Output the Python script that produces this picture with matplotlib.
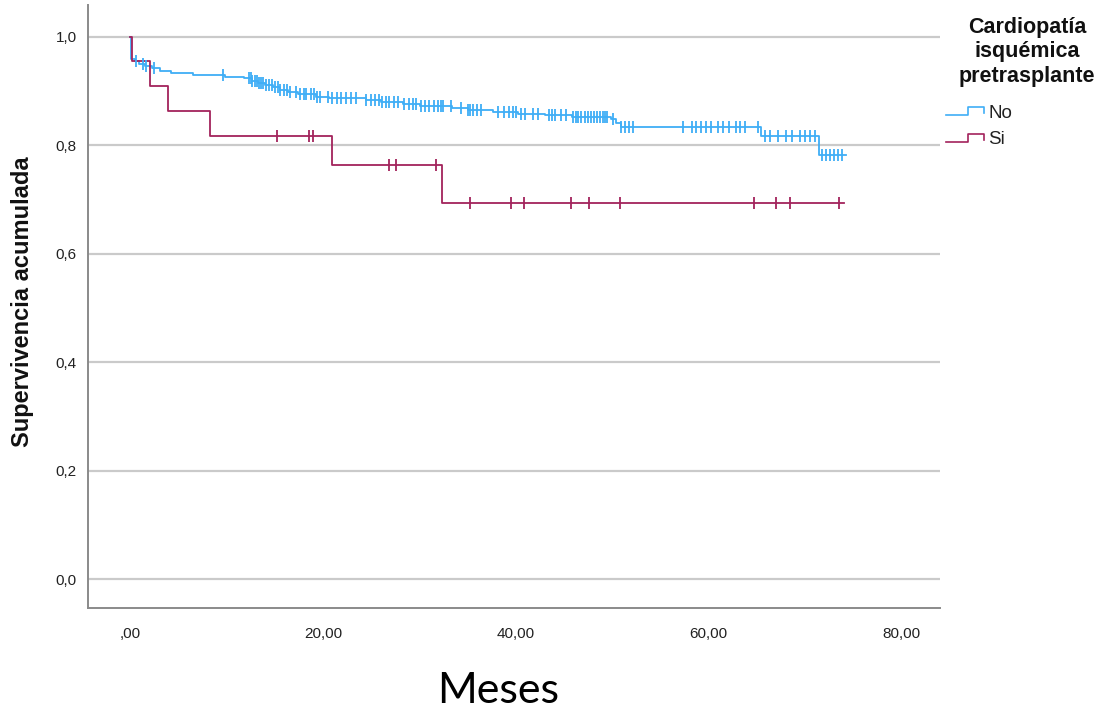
import matplotlib
matplotlib.use('Agg')
import matplotlib.pyplot as plt
import numpy as np
from matplotlib.lines import Line2D

# ---------------- data ----------------
no_times = [0, 0.15, 0.5, 0.9, 1.6, 2.3, 3.1, 4.2, 6.5, 9.8, 11.8, 12.6, 13.3, 14.0,
            14.8, 15.6, 16.4, 17.4, 19.3, 20.6, 24.5, 26.0, 28.3, 30.1, 33.4, 35.0,
            37.6, 40.2, 43.0, 45.8, 49.9, 50.4, 50.9, 65.4, 71.4]
no_surv = [1.0, 0.960, 0.955, 0.951, 0.947, 0.942, 0.938, 0.933, 0.930, 0.927, 0.924,
           0.919, 0.915, 0.911, 0.907, 0.903, 0.898, 0.894, 0.890, 0.887, 0.884, 0.880,
           0.876, 0.873, 0.869, 0.866, 0.862, 0.858, 0.856, 0.853, 0.849, 0.841, 0.834,
           0.817, 0.783]
no_end = 74.2
no_censored = [0.6, 1.3, 1.7, 2.5, 9.6,
               12.3, 12.5, 12.7, 13.0, 13.2, 13.4, 13.6, 13.8, 14.1, 14.4, 14.7, 15.0,
               15.3, 15.6, 16.0, 16.3, 16.6, 17.2, 17.6, 18.0, 18.3, 18.8, 19.1, 19.4,
               19.7, 20.5, 20.9, 21.5, 21.9, 22.4, 22.9, 23.4, 24.5, 25.0, 25.4, 25.8,
               26.1, 26.5, 26.9, 27.4, 27.8, 28.4, 28.9, 29.3, 29.7, 30.2, 30.6, 31.0,
               31.5, 31.9, 32.3, 32.5, 33.3, 34.3, 35.0, 35.3, 35.6, 36.0, 36.4, 38.2,
               38.8, 39.3, 39.7, 40.0, 40.5, 41.0, 41.8, 42.3, 43.4, 43.8, 44.1, 44.7,
               45.2, 45.9, 46.2, 46.5, 46.8, 47.2, 47.5, 47.8, 48.1, 48.4, 48.7, 49.0,
               49.3, 49.5, 50.1, 50.9, 51.3, 51.7, 52.2, 57.3, 58.3, 58.7, 59.2, 59.7,
               60.2, 61.0, 61.5, 62.1, 62.8, 63.3, 63.8, 65.1, 65.9, 66.4, 67.2, 68.0,
               68.7, 69.5, 70.0, 70.5, 71.0, 71.8, 72.2, 72.6, 73.0, 73.4, 73.8]

si_times = [0, 0.17, 2.04, 3.97, 8.32, 20.9, 32.4]
si_surv = [1.0, 0.955, 0.909, 0.864, 0.818, 0.764, 0.694]
si_end = 74.0
si_censored = [15.2, 18.6, 19.0, 26.9, 27.6, 31.7, 35.3, 39.5, 40.9, 45.7, 47.6,
               50.8, 64.7, 67.0, 68.4, 73.5]

y_ticks = [0.0, 0.2, 0.4, 0.6, 0.8, 1.0]
y_ticklabels = ['0,0', '0,2', '0,4', '0,6', '0,8', '1,0']
x_ticks = [0, 20, 40, 60, 80]
x_ticklabels = [',00', '20,00', '40,00', '60,00', '80,00']

groups = ['No', 'Si']
legend_title = 'Cardiopatía\nisquémica\npretrasplante'
ylabel = 'Supervivencia acumulada'
xlabel = 'Meses'

# ---------------- styling ----------------
W, H = 1112, 717
col_no = '#3FAEF6'
col_si = '#A3235C'
grid_col = '#CACACA'
spine_col = '#8A8A8A'

fig = plt.figure(figsize=(W / 100, H / 100), dpi=100)
fig.patch.set_facecolor('white')


def fx(px):
    return px / W


def fy(py):
    return 1 - py / H


ax = fig.add_axes([fx(88), fy(608), fx(940) - fx(88), fy(5) - fy(608)])
ax.set_xlim(-4.36, 84.0)
ax.set_ylim(-0.0535, 1.059)

ax.set_yticks(y_ticks)
ax.set_yticklabels(y_ticklabels, fontsize=11, family='Liberation Sans', color='#222222')
ax.set_xticks(x_ticks)
ax.set_xticklabels(x_ticklabels, fontsize=11, family='Liberation Sans', color='#222222')
ax.tick_params(axis='both', length=0)
ax.tick_params(axis='x', pad=14)
ax.tick_params(axis='y', pad=8)
ax.yaxis.grid(True, color=grid_col, lw=1.6)
ax.set_axisbelow(True)
for s in ['top', 'right']:
    ax.spines[s].set_visible(False)
for s in ['left', 'bottom']:
    ax.spines[s].set_color(spine_col)
    ax.spines[s].set_linewidth(1.4)


def draw_km(times, surv, end, cens, color):
    t = list(times) + [end]
    s = list(surv) + [surv[-1]]
    ax.plot(t, s, drawstyle='steps-post', color=color, lw=1.3, zorder=3)
    tt = np.array(times)
    ss = np.array(surv)
    cy = [ss[np.searchsorted(tt, c, side='right') - 1] for c in cens]
    ax.plot(cens, cy, ls='none', marker='|', ms=9, mew=1.3, color=color, zorder=4)


draw_km(no_times, no_surv, no_end, no_censored, col_no)
draw_km(si_times, si_surv, si_end, si_censored, col_si)

# axis labels
fig.text(fx(23), fy(302), ylabel, rotation=90, ha='center', va='center',
         fontsize=17, fontweight='bold', family='Liberation Sans', color='#111111')
fig.text(fx(498), fy(691), xlabel, ha='center', va='center',
         fontsize=31, family='Lato', color='#000000')

# legend (manual, SPSS style)
fig.text(fx(1027), fy(52), legend_title, ha='center', va='center', fontsize=15.5,
         fontweight='bold', family='Liberation Sans', linespacing=1.2, color='#111111')
for i, (g, c) in enumerate(zip(groups, [col_no, col_si])):
    yb = 115 + i * 27
    xs = [fx(946), fx(968), fx(968), fx(984), fx(984)]
    ys = [fy(yb), fy(yb), fy(yb - 8), fy(yb - 8), fy(yb - 2)]
    fig.add_artist(Line2D(xs, ys, color=c, lw=1.2, transform=fig.transFigure))
    fig.text(fx(988), fy(yb - 2), g, ha='left', va='center', fontsize=13.5,
             family='Liberation Sans', color='#222222')

fig.savefig('out.png', dpi=100, facecolor='white')
